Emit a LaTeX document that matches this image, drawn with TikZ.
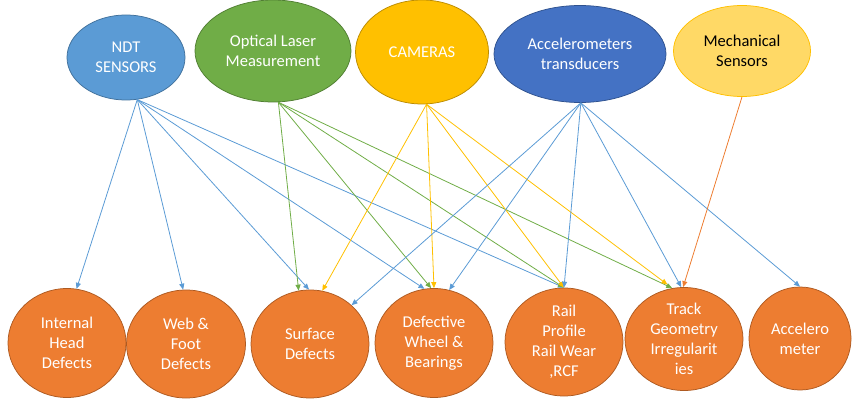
\documentclass[tikz,border=0pt]{standalone}
\usepackage{fontspec}
\setmainfont{Carlito}
\usetikzlibrary{shapes.geometric,arrows.meta}
\definecolor{cblue}{HTML}{5B9BD5}
\definecolor{cblueB}{HTML}{41719C}
\definecolor{cgreen}{HTML}{70AD47}
\definecolor{cgreenB}{HTML}{507E32}
\definecolor{cgold}{HTML}{FFC000}
\definecolor{cgoldB}{HTML}{BC8C00}
\definecolor{cdblue}{HTML}{4472C4}
\definecolor{cdblueB}{HTML}{2F528F}
\definecolor{clgold}{HTML}{FFD966}
\definecolor{corange}{HTML}{ED7D31}
\definecolor{corangeB}{HTML}{AE5A21}
\tikzset{
  ell/.style={ellipse, draw, line width=0.75pt, inner sep=0pt, align=center,
    text=white, font=\fontsize{16.5}{20}\selectfont},
  topnode/.style={ell},
  botnode/.style={ell, fill=corange, draw=corangeB},
  conn/.style={line width=0.8pt, -{Triangle[length=6pt,width=5pt]}},
}
\begin{document}
\begin{tikzpicture}[x=1pt,y=-1pt]
\useasboundingbox (0,0) rectangle (853,417);
% top nodes
\node[topnode, fill=cblue, draw=cblueB, minimum width=118pt, minimum height=85pt] (ndt) at (126,57.5) {NDT\\SENSORS};
\node[topnode, fill=cgreen, draw=cgreenB, minimum width=156pt, minimum height=102pt] (opt) at (273,51) {Optical Laser\\Measurement};
\node[topnode, fill=cgold, draw=cgoldB, minimum width=133pt, minimum height=104pt] (cam) at (422,52) {CAMERAS};
\node[topnode, fill=cdblue, draw=cdblueB, minimum width=172pt, minimum height=97pt] (acc) at (580,54) {Accelerometers\\transducers};
\node[topnode, fill=clgold, draw=cgold, text=black, minimum width=137pt, minimum height=91pt] (mech) at (742,51) {Mechanical\\Sensors};
% bottom nodes
\node[botnode, minimum width=118pt, minimum height=109pt] (ihd) at (67,343) {Internal\\Head\\Defects};
\node[botnode, minimum width=119pt, minimum height=108pt] (web) at (186,344) {Web \&\\Foot\\Defects};
\node[botnode, minimum width=118pt, minimum height=108pt] (surf) at (310,344) {Surface\\Defects};
\node[botnode, minimum width=118pt, minimum height=109pt] (wheel) at (434,343) {Defective\\Wheel \&\\Bearings};
\node[botnode, minimum width=118pt, minimum height=108pt] (rail) at (564,342) {Rail\\Profile\\Rail Wear\\,RCF};
\node[botnode, minimum width=118pt, minimum height=103pt] (track) at (684,339) {Track\\Geometry\\Irregularit\\ies};
\node[botnode, minimum width=102pt, minimum height=103pt] (accm) at (800,338.5) {Accelero\\meter};
% NDT connectors
\draw[conn, cblue] (ndt.285) -- (ihd.80);
\draw[conn, cblue] (ndt.285) -- (web.93);
\draw[conn, cblue] (ndt.285) -- (surf.91);
\draw[conn, cblue] (ndt.285) -- (wheel.100);
\draw[conn, cblue] (ndt.285) -- (rail.north);
% Optical connectors
\draw[conn, cgreen] (opt.276) -- (surf.102);
\draw[conn, cgreen] (opt.276) -- (wheel.93);
\draw[conn, cgreen] (opt.276) -- (rail.north);
\draw[conn, cgreen] (opt.276) -- (track.103);
% Cameras connectors
\draw[conn, cgold] (cam.275) -- (surf.77);
\draw[conn, cgold] (cam.275) -- (wheel.90);
\draw[conn, cgold] (cam.275) -- (rail.north);
\draw[conn, cgold, shorten >=6pt] (cam.275) -- (track.103);
% Accelerometers connectors
\draw[conn, cblue] (acc.271) -- (surf.43);
\draw[conn, cblue] (acc.271) -- (wheel.74);
\draw[conn, cblue] (acc.271) -- (rail.north);
\draw[conn, cblue] (acc.271) -- (track.93);
\draw[conn, cblue] (acc.271) -- (accm.north);
% Mechanical connector
\draw[conn, corange] (mech.south) -- (track.91);
\end{tikzpicture}
\end{document}
